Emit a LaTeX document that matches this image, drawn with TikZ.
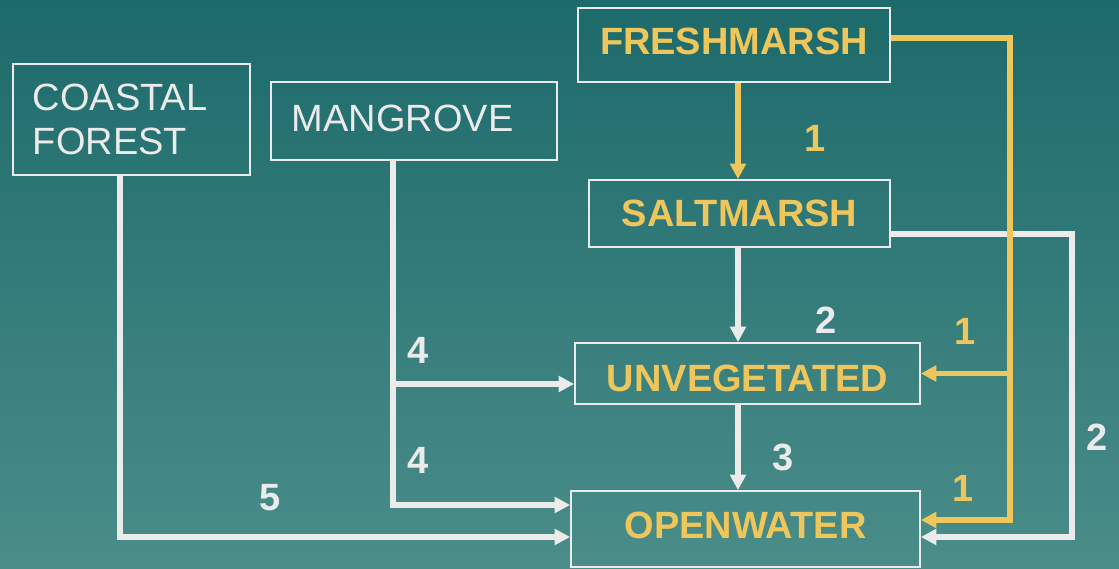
\documentclass[tikz,border=0pt]{standalone}
\usepackage{fontspec}
\setmainfont{Liberation Sans}
\usepackage{xcolor}
\definecolor{habtop}{HTML}{1D6A6B}
\definecolor{habbot}{HTML}{4A8D89}
\definecolor{habgold}{HTML}{EEC65B}
\definecolor{habwhite}{HTML}{EBEBEB}
\usepackage{tikz}
\usetikzlibrary{arrows.meta,positioning,calc}
\tikzset{
  habbox/.style={draw=habwhite,line width=1.2pt,inner sep=0pt,align=center,text=habgold,font=\fontsize{27}{31}\selectfont\bfseries},
  habplain/.style={draw=habwhite,line width=1.2pt,inner xsep=0.5cm,inner ysep=0pt,align=left,text=habwhite,font=\fontsize{27}{31}\selectfont},
  habflow/.style={-{Triangle[length=11pt,width=11pt]},line width=3.6pt,draw=habwhite},
  habgoldflow/.style={habflow,draw=habgold,-{Triangle[length=11pt,width=11pt]}},
  hablabel/.style={font=\fontsize{27}{31}\selectfont\bfseries,text=habwhite,inner sep=0pt},
  habgoldlabel/.style={hablabel,text=habgold},
}

\begin{document}
\begin{tikzpicture}[x=0.025cm,y=-0.025cm]
\shade[top color=habtop,bottom color=habbot] (0,0) rectangle (1119,569);
\useasboundingbox (0,0) rectangle (1119,569);
% habitat boxes
\node[habplain,minimum width=5.925cm,minimum height=2.775cm,text width=4.925cm] (coastal) at (131.5,119.5) {COASTAL\\FOREST};
\node[habplain,minimum width=7.15cm,minimum height=1.95cm,text width=6.1cm,text depth=4.2pt] (mangrove) at (414,121) {MANGROVE};
\node[habbox,minimum width=7.8cm,minimum height=1.85cm,text depth=5.6pt] (fresh) at (734,45) {FRESHMARSH};
\node[habbox,minimum width=7.525cm,minimum height=1.675cm] (salt) at (739.5,213.5) {SALTMARSH};
\node[habbox,minimum width=8.625cm,minimum height=1.525cm,text height=26.3pt] (unveg) at (747.5,373.5) {UNVEGETATED};
\node[habbox,minimum width=8.725cm,minimum height=1.9cm,text depth=5.6pt] (owater) at (745.5,529) {OPENWATER};
% bends
\coordinate (cx) at (738,0);
\coordinate (ytop) at (1010,38);
\coordinate (ybot) at (1010,520);
\coordinate (wtop) at (1072,234);
\coordinate (wbot) at (1072,537);
\coordinate (cbot) at (120,537);
\coordinate (mmid) at (393,384);
\coordinate (mbot) at (393,505);
% transitions
\draw[habgoldflow] (fresh.south -| cx) -- (salt.north -| cx);
\draw[habflow] (salt.south -| cx) -- (unveg.north -| cx);
\draw[habflow] (unveg.south -| cx) -- (owater.north -| cx);
\draw[habflow] (salt.east |- wtop) -- (wtop) -- (wbot) -- (wbot -| owater.east);
\draw[habgoldflow] (fresh.east |- ytop) -- (ytop) -- (ybot) -- (ybot -| owater.east);
\draw[habgoldflow] (unveg.east -| ytop) -- (unveg.east);
\draw[habflow] (coastal.south -| cbot) -- (cbot) -- (cbot -| owater.west);
\draw[habflow] (mangrove.south -| mbot) -- (mbot) -- (mbot -| owater.west);
\draw[habflow] (mmid) -- (mmid -| unveg.west);
% rates
\node[habgoldlabel] (r1) at (815,138) {1};
\node[hablabel] (r2) at (826,320) {2};
\node[hablabel] (r3) at (783,457) {3};
\node[habgoldlabel] (r4) at (965,331) {1};
\node[habgoldlabel] (r5) at (963,488) {1};
\node[hablabel] (r6) at (1097,437) {2};
\node[hablabel] (r7) at (270,498) {5};
\node[hablabel] (r8) at (418,350) {4};
\node[hablabel] (r9) at (418,460) {4};
\end{tikzpicture}
\end{document}
